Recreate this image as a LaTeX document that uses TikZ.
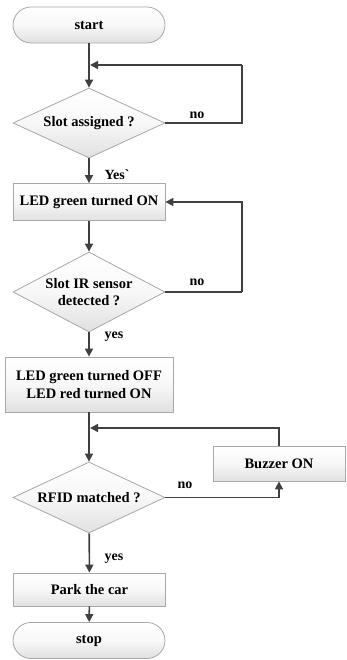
\documentclass[tikz,border=0pt]{standalone}
\usepackage{fontspec}
\setmainfont{Liberation Serif}
% same face without the TeX quote mapping, so a grave accent stays a grave accent
\newfontfamily\rawserif{Liberation Serif}
\usetikzlibrary{shapes.geometric,arrows.meta}
\definecolor{linegray}{HTML}{404040}
\definecolor{edgegray}{HTML}{A8A8A8}
\begin{document}
\begin{tikzpicture}[x=1pt,y=-1pt,
  every node/.style={font=\bfseries\fontsize{14.5}{17.5}\selectfont, text=black},
  shade box/.style={draw=edgegray, line width=0.8pt, top color=white, bottom color=gray!24, middle color=gray!6},
  terminal/.style={shade box, rectangle, rounded corners=18pt, minimum width=152pt, minimum height=36pt, inner sep=0pt},
  process/.style={shade box, rectangle, minimum width=152pt, inner sep=0pt, align=center},
  decision/.style={shade box, diamond, minimum width=152pt, minimum height=70pt, inner sep=-14pt, align=center},
  flow/.style={draw=linegray, line width=1.6pt, -{Triangle[length=8pt,width=8pt]}},
  plain/.style={draw=linegray, line width=1.6pt},
  tag/.style={font=\bfseries\fontsize{14}{16}\selectfont}
]
\useasboundingbox (0,0) rectangle (346,660);

% shapes
\node[terminal] (start) at (89,25) {start};
\node[decision] (d1) at (89,123) {Slot assigned ?};
\node[process, minimum height=37pt] (b1) at (89,202) {LED green turned ON};
\node[decision, minimum height=80pt] (d2) at (89,292) {Slot IR sensor\\detected ?};
\node[process, minimum width=168pt, minimum height=55pt] (b2) at (89,384.5) {LED green turned OFF\\LED red turned ON};
\node[decision, minimum height=71pt] (d3) at (89,497.5) {RFID matched ?};
\node[process, minimum width=132pt, minimum height=35pt] (buzz) at (279,463.5) {Buzzer ON};
\node[process, minimum height=33pt] (park) at (89.5,589.5) {Park the car};
\node[terminal] (stop) at (89,640.5) {stop};

% junction points on the main line and loop corners
\coordinate (j1) at (89,65);
\coordinate (r1) at (242,65);
\coordinate (r2) at (242,292);
\coordinate (j3) at (89,428);

% connectors
\draw[flow] (start) -- (d1);
\draw[plain] (d1.east) -| (r1);
\draw[flow] (r1) -- ([xshift=1pt]j1);
\draw[flow] (d1) -- (b1);
\draw[flow] (b1) -- (d2);
\draw[plain] (d2.east) -- (r2);
\draw[flow] (r2) |- (b1.east);
\draw[flow] (d2) -- (b2);
\draw[flow] (b2) -- (d3);
\draw[flow] (d3.east) -| (buzz.south);
\draw[flow] (buzz.north) |- ([xshift=1pt]j3);
\draw[flow] (d3) -- (park);
\draw[flow] (park) -- (stop);

% branch labels
\node[tag] (n1) at (197,115) {no};
\node[tag] (y1) at (117,175) {\rawserif\bfseries Yes`};
\node[tag] (n2) at (197,282) {no};
\node[tag] (y2) at (114,337) {yes};
\node[tag] (n3) at (185,485) {no};
\node[tag] (y3) at (114,559) {yes};
\end{tikzpicture}
\end{document}
